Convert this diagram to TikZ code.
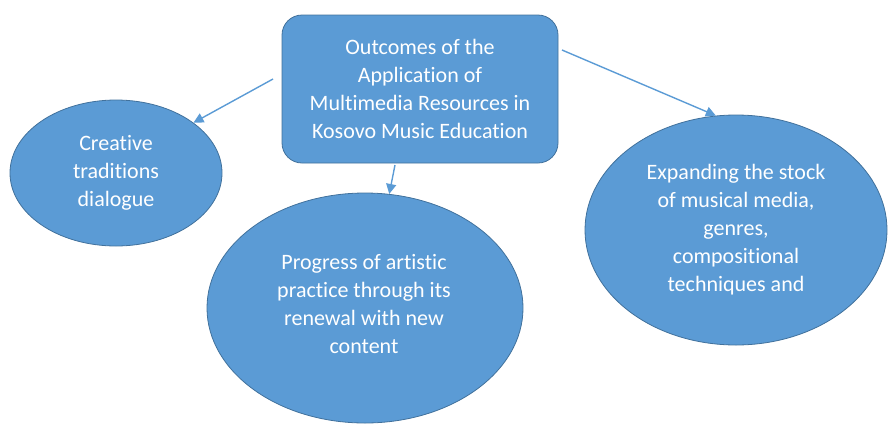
\documentclass[tikz,border=0pt]{standalone}
\usepackage{fontspec}
\setmainfont{Carlito}[Ligatures=NoCommon]
\usetikzlibrary{shapes.geometric,arrows.meta}
\definecolor{offblue}{HTML}{5B9BD5}
\definecolor{offedge}{HTML}{41719C}
\begin{document}
\begin{tikzpicture}[x=.5pt,y=-.5pt,
		bubble/.style={ellipse,draw=offedge,fill=offblue,line width=.4pt,inner sep=0pt,
			text=white,align=center,font=\fontsize{11}{14}\selectfont},
		mainbox/.style={rectangle,rounded corners=10pt,draw=offedge,fill=offblue,line width=.4pt,
			minimum width=138pt,minimum height=74pt,text=white,align=center,
			font=\fontsize{11}{14}\selectfont},
		link/.style={draw=offblue,line width=.7pt,-{Triangle[length=5pt,width=5pt]}}]
	\useasboundingbox (0,0) rectangle (888,424);
	
	\node[mainbox] (box) at (420,89) {Outcomes of the\\Application of\\Multimedia Resources in\\Kosovo Music Education};
	\node[bubble,minimum width=106pt,minimum height=73pt] (creative) at (116,173) {Creative\\traditions\\dialogue};
	\node[bubble,minimum width=158pt,minimum height=115pt] (progress) at (365,308) {};
	\node[text=white,align=center,font=\fontsize{11}{14}\selectfont] (progtext) at (364,304) {Progress of artistic\\practice through its\\renewal with new\\content};
	\node[bubble,minimum width=151pt,minimum height=115pt] (stock) at (736,230) {Expanding the stock\\of musical media,\\genres,\\compositional\\techniques and};
	
	\coordinate (ls) at (273,79);
	\coordinate (bs) at (395,165);
	\coordinate (rs) at (562,50);
	
	\draw[link] (ls) -- (creative.33);
	\draw[link] (bs) -- (progress.78);
	\draw[link] (rs) -- (stock.100);
\end{tikzpicture}
\end{document}
